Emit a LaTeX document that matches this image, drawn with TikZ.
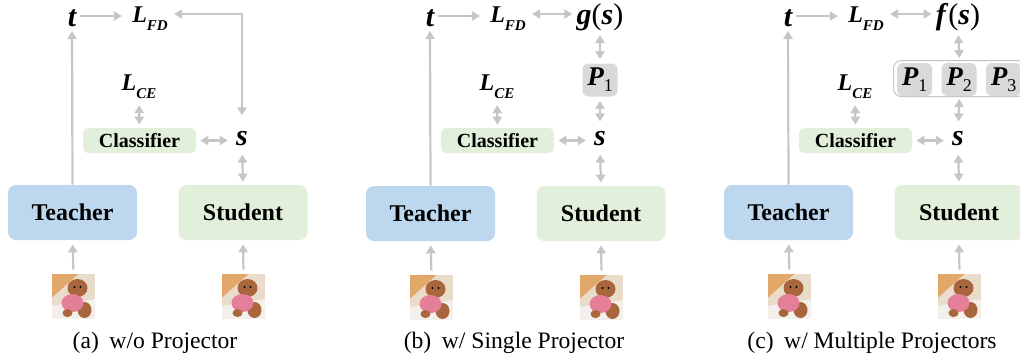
\documentclass[tikz,border=0pt]{standalone}
\usepackage{fontspec}
\setmainfont{Liberation Serif}
\usetikzlibrary{arrows.meta}
\definecolor{arrgray}{HTML}{C6C6C6}
\definecolor{tblue}{HTML}{BDD7EE}
\definecolor{sgreen}{HTML}{E2EFDA}
\definecolor{pgray}{HTML}{D9D9D9}
\definecolor{contline}{HTML}{C4C4C4}
\definecolor{dogbg}{HTML}{E9DCCB}
\definecolor{dogorange}{HTML}{E2A86A}
\definecolor{dogwhite}{HTML}{F3EFEA}
\definecolor{dogbrown}{HTML}{A9663C}
\definecolor{dogpink}{HTML}{E57E98}
\newcommand{\bi}[1]{{\bfseries\itshape #1}}
\newcommand{\Lsub}[1]{\bi{L}\raisebox{-0.7ex}{\fontsize{7.5}{8}\selectfont\bi{#1}}}
\newcommand{\Psub}[1]{\bi{P}\raisebox{-0.5ex}{\fontsize{9}{10}\selectfont #1}}
\tikzset{
  tip/.tip={Triangle[length=4pt,width=4.6pt]},
  arr/.style={draw=arrgray, line width=1.1pt, -tip},
  darr/.style={draw=arrgray, line width=1.1pt, tip-tip},
  var/.style={inner sep=0pt, font=\fontsize{12}{14}\selectfont},
  bigvar/.style={inner sep=0pt, font=\fontsize{15}{17}\selectfont\bfseries\itshape},
  netbox/.style={rounded corners=4pt, minimum width=64.5pt, minimum height=27.5pt, inner sep=0pt, font=\fontsize{12}{14}\selectfont\bfseries},
  teacherbox/.style={netbox, fill=tblue},
  studentbox/.style={netbox, fill=sgreen},
  clsbox/.style={rounded corners=2.5pt, fill=sgreen, minimum width=56.5pt, minimum height=12.5pt, inner sep=0pt, font=\fontsize{10}{12}\selectfont\bfseries},
  pbox/.style={rounded corners=3pt, fill=pgray, minimum width=17.5pt, minimum height=16.5pt, inner sep=0pt, font=\fontsize{13.5}{15}\selectfont},
  contbox/.style={rounded corners=4pt, draw=contline, line width=0.5pt, fill=white, minimum width=66pt, minimum height=18pt, inner sep=0pt},
  capt/.style={inner sep=0pt, font=\fontsize{11.8}{14}\selectfont},
  dog/.style={minimum width=21.5pt, minimum height=22pt, inner sep=0pt, fill=dogbg, path picture={
    \begin{scope}[shift={(path picture bounding box.center)}]
      \fill[dogorange] (-22,-23) -- (6,-23) -- (-22,2) -- cycle;
      \fill[dogwhite] (-22,10) -- (22,3) -- (22,23) -- (-22,23) -- cycle;
      \fill[dogbrown] (11,14) ellipse (7 and 8);
      \fill[dogbrown] (4,-8) ellipse (10 and 9);
      \fill[dogpink] (-1,7) ellipse (11 and 9);
      \fill[dogbrown] (-6,17) ellipse (5 and 4);
      \fill[black] (1,-9) circle (1.2);
      \fill[black] (7,-9) circle (1.2);
    \end{scope}}}
}
\begin{document}
\begin{tikzpicture}[x=0.5pt,y=-0.5pt]
\useasboundingbox (0,0) rectangle (1020,360);

% ---------------- (a) ----------------
\node[bigvar] (ta) at (72,18) {t};
\node[var] (LFDa) at (150,19) {\Lsub{FD}};
\node[var] (LCEa) at (139,87) {\Lsub{CE}};
\node[clsbox] (clsa) at (139.5,140.5) {Classifier};
\node[bigvar] (sa) at (242,139) {s};
\node[teacherbox] (tea) at (72.5,212.5) {Teacher};
\node[studentbox] (stua) at (243,212.5) {Student};
\node[dog] (imta) at (73.5,296) {};
\node[dog] (imsa) at (243.5,296) {};
\node[capt] (capa) at (155,343) {(a)\hspace{0.45em}w/o Projector};

\draw[arr, shorten >=2pt] (tea.north) -- (ta.south);
\draw[arr, shorten <=1.5pt, shorten >=5pt] ([yshift=1pt]ta.east) -- ([yshift=1pt]ta.east -| LFDa.west);
\draw[darr, shorten <=8pt, shorten >=3pt] (sa.north) |- ([yshift=2.5pt]LFDa.east);
\draw[darr, shorten <=3pt, shorten >=1.5pt] (LCEa.south) -- (clsa.north);
\draw[darr, shorten <=2pt, shorten >=4pt] (clsa.east) -- (clsa.east -| sa.west);
\draw[darr, shorten <=4pt, shorten >=1.5pt] (sa.south) -- (stua.north);
\draw[arr, shorten <=2pt, shorten >=2pt] (imta.north) -- (tea.south);
\draw[arr, shorten <=2pt, shorten >=2pt] (imsa.north) -- (stua.south);

% ---------------- (b) ----------------
\node[bigvar] (tb) at (430,18) {t};
\node[var] (LFDb) at (508,19) {\Lsub{FD}};
\node[bigvar] (gsb) at (600,17) {g\textup{\mdseries(}s\textup{\mdseries)}};
\node[pbox] (P1b) at (600,80) {\Psub{1}};
\node[var] (LCEb) at (497,87) {\Lsub{CE}};
\node[clsbox] (clsb) at (497.5,140.5) {Classifier};
\node[bigvar] (sb) at (600,139) {s};
\node[teacherbox] (teb) at (430.5,213.5) {Teacher};
\node[studentbox] (stub) at (601,213.5) {Student};
\node[dog] (imtb) at (431.5,297) {};
\node[dog] (imsb) at (601.5,297) {};
\node[capt] (capb) at (514,343) {(b)\hspace{0.45em}w/ Single Projector};

\draw[arr, shorten >=2pt] (teb.north) -- (tb.south);
\draw[arr, shorten <=1.5pt, shorten >=5pt] ([yshift=1pt]tb.east) -- ([yshift=1pt]tb.east -| LFDb.west);
\draw[darr, shorten <=3pt, shorten >=2pt] ([yshift=2.5pt]LFDb.east) -- ([yshift=2.5pt]LFDb.east -| gsb.west);
\draw[darr, shorten <=2pt, shorten >=2pt] (gsb.south) -- (P1b.north);
\draw[darr, shorten <=2pt, shorten >=5pt] (P1b.south) -- (sb.north);
\draw[darr, shorten <=3pt, shorten >=1.5pt] (LCEb.south) -- (clsb.north);
\draw[darr, shorten <=2pt, shorten >=4pt] (clsb.east) -- (clsb.east -| sb.west);
\draw[darr, shorten <=4pt, shorten >=1.5pt] (sb.south) -- (stub.north);
\draw[arr, shorten <=2pt, shorten >=2pt] (imtb.north) -- (teb.south);
\draw[arr, shorten <=2pt, shorten >=2pt] (imsb.north) -- (stub.south);

% ---------------- (c) ----------------
\node[bigvar] (tc) at (788,18) {t};
\node[var] (LFDc) at (866,19) {\Lsub{FD}};
\node[bigvar] (fsc) at (958,17) {f\textup{\mdseries(}s\textup{\mdseries)}};
\node[contbox] (contc) at (959.5,78.5) {};
\node[pbox] (P1c) at (914.5,79.5) {\Psub{1}};
\node[pbox] (P2c) at (959,79.5) {\Psub{2}};
\node[pbox] (P3c) at (1003.5,79.5) {\Psub{3}};
\node[var] (LCEc) at (855,87) {\Lsub{CE}};
\node[clsbox] (clsc) at (855.5,140.5) {Classifier};
\node[bigvar] (sc) at (958,139) {s};
\node[teacherbox] (tec) at (788.5,212.5) {Teacher};
\node[studentbox] (stuc) at (959,212.5) {Student};
\node[dog] (imtc) at (789.5,296) {};
\node[dog] (imsc) at (959.5,296) {};
\node[capt] (capc) at (872,343) {(c)\hspace{0.45em}w/ Multiple Projectors};

\draw[arr, shorten >=2pt] (tec.north) -- (tc.south);
\draw[arr, shorten <=1.5pt, shorten >=5pt] ([yshift=1pt]tc.east) -- ([yshift=1pt]tc.east -| LFDc.west);
\draw[darr, shorten <=3pt, shorten >=2pt] ([yshift=2.5pt]LFDc.east) -- ([yshift=2.5pt]LFDc.east -| fsc.west);
\draw[darr, shorten <=2pt, shorten >=1pt] (fsc.south) -- (contc.north);
\draw[darr, shorten <=1pt, shorten >=5pt] (contc.south) -- (sc.north);
\draw[darr, shorten <=3pt, shorten >=1.5pt] (LCEc.south) -- (clsc.north);
\draw[darr, shorten <=2pt, shorten >=4pt] (clsc.east) -- (clsc.east -| sc.west);
\draw[darr, shorten <=4pt, shorten >=1.5pt] (sc.south) -- (stuc.north);
\draw[arr, shorten <=2pt, shorten >=2pt] (imtc.north) -- (tec.south);
\draw[arr, shorten <=2pt, shorten >=2pt] (imsc.north) -- (stuc.south);
\end{tikzpicture}
\end{document}
